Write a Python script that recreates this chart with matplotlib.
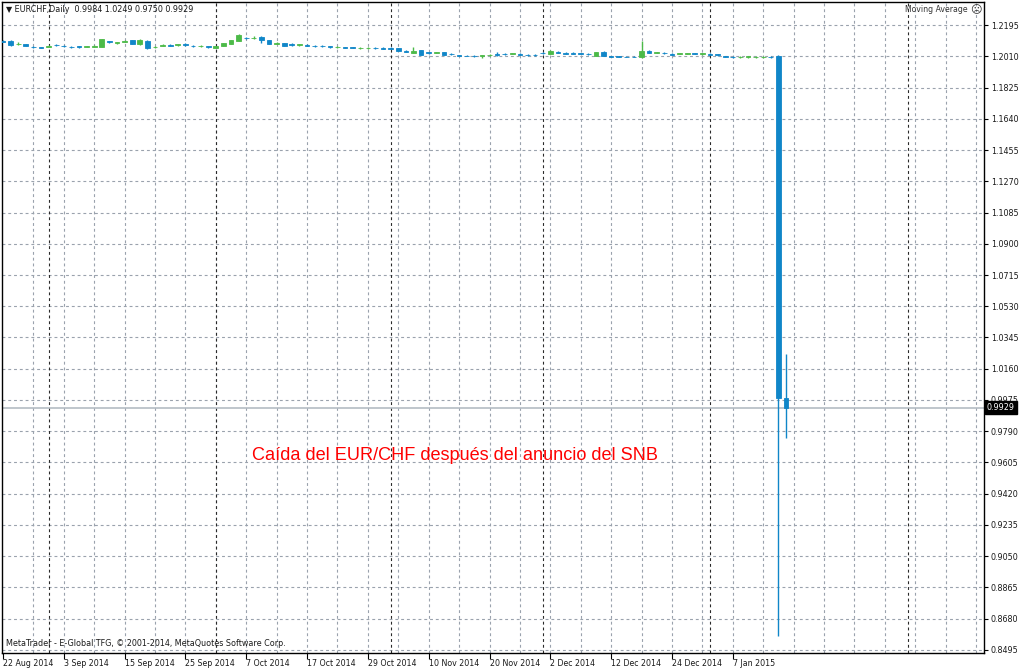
import numpy as np
import matplotlib
matplotlib.use("Agg")
import matplotlib.pyplot as plt
from matplotlib.transforms import blended_transform_factory

# EURCHF daily bars, 22 Aug 2014 .. 16 Jan 2015 (bar index 0..103)
opens = [1.2102, 1.2102, 1.2080, 1.2080, 1.2067, 1.2064, 1.2066, 1.2079, 1.2073, 1.2067,
         1.2068, 1.2065, 1.2066, 1.2066, 1.2098, 1.2088, 1.2096, 1.2106, 1.2080, 1.2102,
         1.2062, 1.2071, 1.2077, 1.2074, 1.2081, 1.2073, 1.2068, 1.2068, 1.2059, 1.2070,
         1.2083, 1.2102, 1.2121, 1.2116, 1.2124, 1.2106, 1.2085, 1.2088, 1.2080, 1.2075,
         1.2077, 1.2072, 1.2073, 1.2068, 1.2063, 1.2065, 1.2063, 1.2057, 1.2057, 1.2061,
         1.2060, 1.2060, 1.2059, 1.2043, 1.2029, 1.2047, 1.2033, 1.2029, 1.2035, 1.2025,
         1.2017, 1.2014, 1.2013, 1.2011, 1.2015, 1.2021, 1.2026, 1.2023, 1.2025, 1.2020,
         1.2020, 1.2032, 1.2024, 1.2038, 1.2031, 1.2028, 1.2028, 1.2026, 1.2013, 1.2035,
         1.2012, 1.2010, 1.2008, 1.2008, 1.2004, 1.2043, 1.2031, 1.2032, 1.2025, 1.2023,
         1.2023, 1.2028, 1.2022, 1.2025, 1.2022, 1.2011, 1.2008, 1.2004, 1.2006, 1.2004,
         1.2004, 1.2008, 1.2010, 0.9984]
highs = [1.2106, 1.2106, 1.2095, 1.2083, 1.2072, 1.2066, 1.2075, 1.2085, 1.2079, 1.2073,
         1.2070, 1.2072, 1.2075, 1.2115, 1.2101, 1.2097, 1.2108, 1.2108, 1.2110, 1.2106,
         1.2070, 1.2080, 1.2082, 1.2082, 1.2086, 1.2075, 1.2076, 1.2070, 1.2073, 1.2090,
         1.2108, 1.2142, 1.2126, 1.2128, 1.2127, 1.2108, 1.2092, 1.2090, 1.2086, 1.2083,
         1.2080, 1.2076, 1.2075, 1.2070, 1.2070, 1.2067, 1.2065, 1.2063, 1.2064, 1.2063,
         1.2062, 1.2064, 1.2061, 1.2045, 1.2065, 1.2049, 1.2036, 1.2036, 1.2038, 1.2027,
         1.2019, 1.2016, 1.2015, 1.2017, 1.2022, 1.2035, 1.2028, 1.2030, 1.2027, 1.2026,
         1.2025, 1.2035, 1.2046, 1.2040, 1.2033, 1.2033, 1.2030, 1.2028, 1.2038, 1.2043,
         1.2014, 1.2012, 1.2010, 1.2010, 1.2099, 1.2046, 1.2038, 1.2034, 1.2027, 1.2030,
         1.2031, 1.2030, 1.2029, 1.2027, 1.2025, 1.2013, 1.2010, 1.2010, 1.2013, 1.2010,
         1.2009, 1.2010, 1.2020, 1.0249]
lows = [1.2092, 1.2072, 1.2078, 1.2069, 1.2058, 1.2058, 1.2063, 1.2071, 1.2064, 1.2057,
        1.2060, 1.2062, 1.2062, 1.2063, 1.2089, 1.2085, 1.2094, 1.2081, 1.2078, 1.2055,
        1.2058, 1.2068, 1.2069, 1.2072, 1.2072, 1.2066, 1.2066, 1.2060, 1.2056, 1.2068,
        1.2081, 1.2100, 1.2112, 1.2110, 1.2088, 1.2080, 1.2082, 1.2068, 1.2070, 1.2072,
        1.2069, 1.2064, 1.2065, 1.2060, 1.2060, 1.2059, 1.2057, 1.2055, 1.2055, 1.2055,
        1.2053, 1.2052, 1.2041, 1.2036, 1.2027, 1.2017, 1.2026, 1.2027, 1.2017, 1.2018,
        1.2011, 1.2009, 1.2008, 1.2000, 1.2013, 1.2014, 1.2019, 1.2021, 1.2018, 1.2014,
        1.2013, 1.2025, 1.2022, 1.2030, 1.2024, 1.2021, 1.2021, 1.2019, 1.2011, 1.2011,
        1.2006, 1.2004, 1.2003, 1.2003, 1.2002, 1.2029, 1.2029, 1.2025, 1.2018, 1.2021,
        1.2021, 1.2021, 1.2020, 1.2018, 1.2014, 1.2004, 1.2002, 1.2002, 1.2002, 1.2002,
        1.2002, 1.2002, 0.8575, 0.9750]
closes = [1.2097, 1.2075, 1.2085, 1.2072, 1.2064, 1.2061, 1.2072, 1.2074, 1.2069, 1.2064,
          1.2063, 1.2069, 1.2070, 1.2110, 1.2092, 1.2092, 1.2100, 1.2083, 1.2106, 1.2059,
          1.2066, 1.2075, 1.2072, 1.2080, 1.2075, 1.2068, 1.2072, 1.2063, 1.2071, 1.2088,
          1.2106, 1.2134, 1.2116, 1.2120, 1.2106, 1.2083, 1.2089, 1.2071, 1.2076, 1.2080,
          1.2072, 1.2068, 1.2068, 1.2063, 1.2067, 1.2061, 1.2059, 1.2061, 1.2061, 1.2057,
          1.2055, 1.2055, 1.2043, 1.2038, 1.2043, 1.2019, 1.2029, 1.2034, 1.2019, 1.2021,
          1.2013, 1.2011, 1.2010, 1.2015, 1.2020, 1.2016, 1.2021, 1.2028, 1.2020, 1.2016,
          1.2015, 1.2027, 1.2042, 1.2032, 1.2026, 1.2024, 1.2023, 1.2021, 1.2035, 1.2013,
          1.2008, 1.2006, 1.2005, 1.2004, 1.2040, 1.2031, 1.2036, 1.2027, 1.2020, 1.2028,
          1.2028, 1.2023, 1.2027, 1.2020, 1.2016, 1.2006, 1.2004, 1.2008, 1.2009, 1.2008,
          1.2007, 1.2004, 0.9985, 0.9929]

tick_bars = [0, 8, 16, 24, 32, 40, 48, 56, 64, 72, 80, 88, 96]
tick_labels = ["22 Aug 2014", "3 Sep 2014", "15 Sep 2014", "25 Sep 2014", "7 Oct 2014",
               "17 Oct 2014", "29 Oct 2014", "10 Nov 2014", "20 Nov 2014", "2 Dec 2014",
               "12 Dec 2014", "24 Dec 2014", "7 Jan 2015"]
month_start_bars = [6, 28, 51, 71, 93, 119]
price_levels = [0.8495, 0.8680, 0.8865, 0.9050, 0.9235, 0.9420, 0.9605, 0.9790, 0.9975,
                1.0160, 1.0345, 1.0530, 1.0715, 1.0900, 1.1085, 1.1270, 1.1455, 1.1640,
                1.1825, 1.2010, 1.2195]
last_price = 0.9929

BULL = "#4cba48"
BEAR = "#1086c8"
GRID = "#9aa2ad"
FS = 5.8

fig = plt.figure(figsize=(10.24, 6.70), dpi=100)
fig.patch.set_facecolor("white")
ax = fig.add_axes([2 / 1024, 17 / 670, 982 / 1024, 651 / 670])
ax.set_xlim(-0.13, 129.05)
ax.set_ylim(0.84772, 1.23312)

# grid
dash = (0, (2.6, 2.6))
for y in price_levels:
    ax.axhline(y, color=GRID, lw=0.8, ls=dash, zorder=0)
for b in range(4, 130, 4):
    ax.axvline(b, color=GRID, lw=0.8, ls=dash, zorder=0)
for b in month_start_bars:
    ax.axvline(b, color="#2a2a2a", lw=0.8, ls=dash, zorder=0)
ax.axhline(last_price, color="#b4bcc4", lw=1.2, zorder=1)

# candles
x = np.arange(len(opens))
o = np.array(opens)
c = np.array(closes)
colors = [BULL if cc >= oo else BEAR for oo, cc in zip(o, c)]
ax.vlines(x, lows, highs, colors=colors, lw=1.0, zorder=2)
ax.bar(x, np.abs(c - o), bottom=np.minimum(o, c), width=0.62,
       color=colors, edgecolor=colors, linewidth=0.6, zorder=3)

# axes styling
for side in ["left", "top", "right", "bottom"]:
    ax.spines[side].set_color("black")
    ax.spines[side].set_linewidth(1.0)
ax.yaxis.tick_right()
ax.set_yticks(price_levels)
ax.set_yticklabels([f"{p:.4f}" for p in price_levels])
ax.set_xticks(tick_bars)
ax.set_xticklabels(tick_labels, ha="left")
ax.tick_params(axis="y", direction="out", length=3, width=0.8, pad=2,
               labelsize=FS, labelcolor="#1a1a1a")
ax.tick_params(axis="x", direction="out", length=4, width=0.8, pad=0.5,
               labelsize=5.7, labelcolor="#1a1a1a")

# last price tag
tr = blended_transform_factory(ax.transAxes, ax.transData)
ax.text(1.003, last_price, f"{last_price:.4f}", transform=tr, ha="left", va="center",
        fontsize=FS, color="white", zorder=10, clip_on=False,
        bbox=dict(boxstyle="square,pad=0.25", fc="black", ec="black"))

# chart texts
fig.text(6 / 1024, 1 - 9 / 670, "▼ EURCHF,Daily  0.9984 1.0249 0.9750 0.9929",
         fontsize=FS, color="#1a1a1a", va="center", ha="left")
fig.text(968 / 1024, 1 - 10 / 670, "Moving Average", fontsize=5.6, color="#333333",
         va="center", ha="right")
fig.text(976 / 1024, 1 - 10 / 670, "☹", fontsize=8, color="#333333",
         va="center", ha="center")
fig.text(6 / 1024, 1 - 644 / 670,
         "MetaTrader - E-Global TFG, © 2001-2014, MetaQuotes Software Corp.",
         fontsize=FS, color="#1a1a1a", va="center", ha="left")
fig.text(252 / 1024, 1 - 456 / 670, "Caída del EUR/CHF después del anuncio del SNB",
         fontsize=13.1, color="#ff0000", va="center", ha="left", family="Liberation Sans")

fig.savefig("out.png", dpi=100)
